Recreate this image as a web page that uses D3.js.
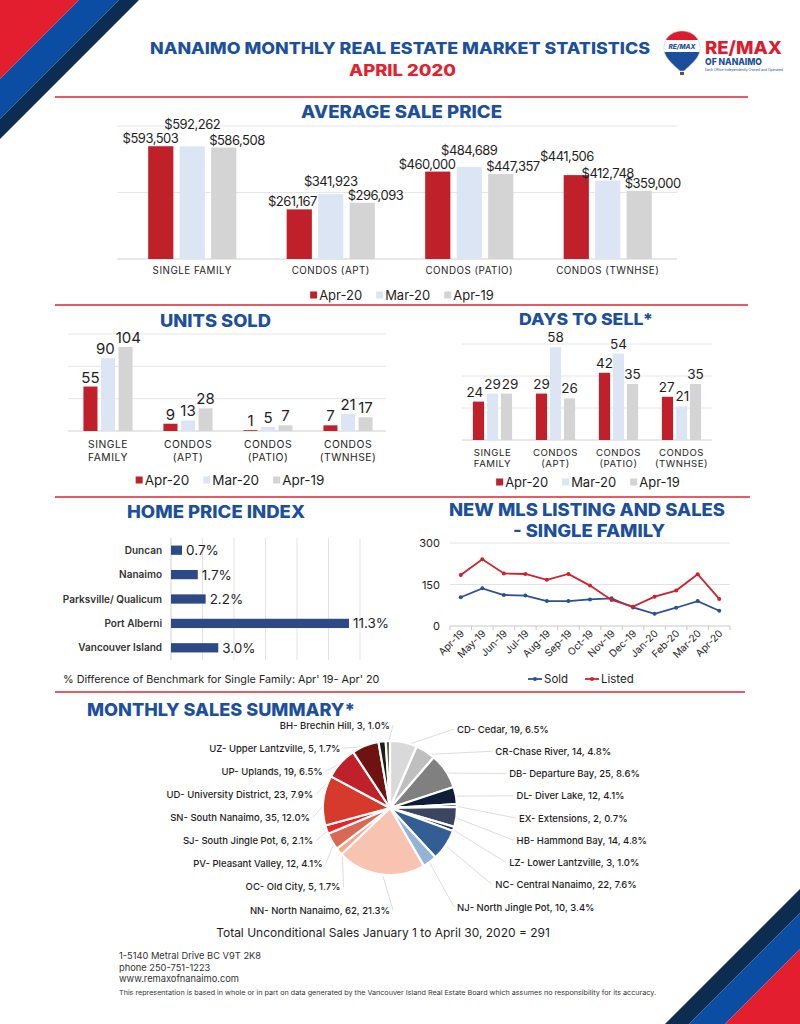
<!DOCTYPE html>
<html>
<head>
<meta charset="utf-8">
<script src="https://cdn.jsdelivr.net/npm/d3@7"></script>
<style>
  body { margin: 0; background: #fff; }
  svg { display: block; font-family: Inter, "Open Sans", sans-serif; }
</style>
</head>
<body>
<svg id="chart" width="800" height="1024"></svg>
<script>
// ---- data ----
const seriesNames = ["Apr-20", "Mar-20", "Apr-19"];

const priceCategories = [["SINGLE FAMILY"], ["CONDOS (APT)"], ["CONDOS (PATIO)"], ["CONDOS (TWNHSE)"]];
const priceApr20 = [593503, 261167, 460000, 441506];
const priceMar20 = [592262, 341923, 484689, 412748];
const priceApr19 = [586508, 296093, 447357, 359000];
const priceTicks = [0, 350000, 700000];

const typeCategories = [["SINGLE", "FAMILY"], ["CONDOS", "(APT)"], ["CONDOS", "(PATIO)"], ["CONDOS", "(TWNHSE)"]];
const unitsApr20 = [55, 9, 1, 7];
const unitsMar20 = [90, 13, 5, 21];
const unitsApr19 = [104, 28, 7, 17];
const unitTicks = [0, 40, 80, 120];

const daysApr20 = [24, 29, 42, 27];
const daysMar20 = [29, 58, 54, 21];
const daysApr19 = [29, 26, 35, 35];
const dayTicks = [0, 20, 40, 60];

const hpiRegions = ["Duncan", "Nanaimo", "Parksville/ Qualicum", "Port Alberni", "Vancouver Island"];
const hpiChange = [0.7, 1.7, 2.2, 11.3, 3.0];
const hpiTicks = [0, 2, 4, 6, 8, 10, 12];

const mlsMonths = ["Apr-19", "May-19", "Jun-19", "Jul-19", "Aug-19", "Sep-19", "Oct-19",
                   "Nov-19", "Dec-19", "Jan-20", "Feb-20", "Mar-20", "Apr-20"];
const mlsSold = [104, 136, 112, 110, 90, 90, 96, 100, 67, 44, 66, 90, 55];
const mlsListed = [184, 241, 190, 188, 167, 188, 146, 94, 70, 106, 128, 187, 98];
const mlsTicks = [0, 150, 300];

const areaNames = ["CD- Cedar", "CR-Chase River", "DB- Departure Bay", "DL- Diver Lake", "EX- Extensions",
                   "HB- Hammond Bay", "LZ- Lower Lantzville", "NC- Central Nanaimo", "NJ- North Jingle Pot",
                   "NN- North Nanaimo", "OC- Old City", "PV- Pleasant Valley", "SJ- South Jingle Pot",
                   "SN- South Nanaimo", "UD- University District", "UP- Uplands", "UZ- Upper Lantzville",
                   "BH- Brechin Hill"];
const areaSales = [19, 14, 25, 12, 2, 14, 3, 22, 10, 62, 5, 12, 6, 35, 23, 19, 5, 3];

// ---- styles ----
const BLUE = "#1c4f9c";
const RED = "#e2232f";
const INK = "#1e1e1e";
const seriesColors = ["#c0202a", "#dbe5f4", "#d4d4d4"];
const areaColors = ["#d9d9d9", "#bfbfbf", "#808080", "#0d1d3a", "#1f3864", "#3a4660", "#1c3560",
                    "#335e94", "#95b3d7", "#f8c3b0", "#f4a88e", "#d86a55", "#e8232a", "#d63a2c",
                    "#c0202a", "#6e1212", "#1e1e14", "#5c5234"];

const svg = d3.select("#chart");

// corner stripes
function stripe(points, fill) {
  svg.append("polygon").attr("points", points.map(p => p.join(",")).join(" ")).attr("fill", fill);
}
stripe([[0, 0], [79, 0], [0, 79]], "#e31e2f");
stripe([[79, 0], [119, 0], [0, 119], [0, 79]], "#0a4da2");
stripe([[119, 0], [139, 0], [0, 139], [0, 119]], "#0c2d4f");
stripe([[665, 1024], [800, 889], [800, 913], [689, 1024]], "#0c2d4f");
stripe([[689, 1024], [800, 913], [800, 949], [725, 1024]], "#0a4da2");
stripe([[725, 1024], [800, 949], [800, 1024]], "#e31e2f");

function heading(text, x, y, len, size, fill, anchor) {
  return svg.append("text")
    .attr("x", x).attr("y", y)
    .attr("text-anchor", anchor || "start")
    .attr("font-size", size || 17)
    .attr("font-weight", 800)
    .attr("fill", fill || BLUE)
    .attr("textLength", len)
    .attr("lengthAdjust", "spacingAndGlyphs")
    .text(text);
}

function rule(y, x1, x2) {
  svg.append("line").attr("x1", x1).attr("x2", x2).attr("y1", y).attr("y2", y)
    .attr("stroke", RED).attr("stroke-width", 1.4);
}

// ---- header ----
heading("NANAIMO MONTHLY REAL ESTATE MARKET STATISTICS", 150, 54, 500, 16);
heading("APRIL 2020", 349, 76, 107, 16, RED);

// logo balloon
const logo = svg.append("g");
const balloonPath = "M682,31 C694,31 701,40 700,50 C699,59 689,66 684,71 L680,71 C675,66 665,59 664,50 C663,40 670,31 682,31 Z";
logo.append("clipPath").attr("id", "balloon").append("path").attr("d", balloonPath);
const bg = logo.append("g").attr("clip-path", "url(#balloon)");
bg.append("rect").attr("x", 660).attr("y", 28).attr("width", 45).attr("height", 12).attr("fill", "#dc1c2e");
bg.append("rect").attr("x", 660).attr("y", 40).attr("width", 45).attr("height", 12).attr("fill", "#fff");
bg.append("rect").attr("x", 660).attr("y", 52).attr("width", 45).attr("height", 25).attr("fill", "#1b4f9c");
logo.append("path").attr("d", balloonPath).attr("fill", "none").attr("stroke", "#c9c9c9").attr("stroke-width", 0.6);
logo.append("text").attr("x", 682).attr("y", 49).attr("text-anchor", "middle").attr("font-size", 6.5)
  .attr("font-weight", 800).attr("font-style", "italic").attr("fill", "#1b4f9c").text("RE/MAX");
logo.append("rect").attr("x", 680).attr("y", 72).attr("width", 4).attr("height", 3).attr("fill", "#555");
heading("RE/MAX", 705, 54, 77, 18, "#dc1c2e");
heading("OF NANAIMO", 705, 65, 57, 9.5, "#1b4f9c");
svg.append("text").attr("x", 705).attr("y", 70.5).attr("font-size", 3.4).attr("fill", "#1b4f9c")
  .attr("textLength", 78).attr("lengthAdjust", "spacingAndGlyphs")
  .text("Each Office Independently Owned and Operated");

rule(97, 55, 748);
rule(305, 55, 748);
rule(497, 55, 750);
rule(692, 55, 745);

// ---- legend helper ----
function legend(cx, y, size) {
  const g = svg.append("g");
  let x = 0;
  seriesNames.forEach((name, i) => {
    g.append("rect").attr("x", x).attr("y", y - 8.5).attr("width", 7).attr("height", 7).attr("fill", seriesColors[i]);
    const t = g.append("text").attr("x", x + 9).attr("y", y).attr("font-size", size).attr("fill", INK).text(name);
    x += 9 + t.node().getComputedTextLength() + 14;
  });
  g.attr("transform", `translate(${cx - (x - 14) / 2},0)`);
}

// ---- grouped bar helper ----
function groupedBars(cfg) {
  const series = cfg.series;
  const x = d3.scaleBand().domain(d3.range(cfg.categories.length)).range([cfg.x0, cfg.x1]);
  const xs = d3.scaleBand().domain(d3.range(series.length)).range([0, x.bandwidth()])
    .paddingInner(0.2).paddingOuter(cfg.outer);
  const y = d3.scaleLinear().domain([0, d3.max(cfg.ticks)]).range([cfg.yBase, cfg.yTop]);
  const g = svg.append("g");

  g.selectAll(".grid").data(cfg.ticks).join("line")
    .attr("x1", cfg.gridX0).attr("x2", cfg.gridX1)
    .attr("y1", d => y(d)).attr("y2", d => y(d))
    .attr("stroke", d => d === 0 ? "#d0d0d0" : "#e6e6e6").attr("stroke-width", 1);

  series.forEach((vals, s) => {
    g.selectAll(null).data(vals).join("rect")
      .attr("x", (d, i) => x(i) + xs(s))
      .attr("y", d => y(d))
      .attr("width", xs.bandwidth())
      .attr("height", d => cfg.yBase - y(d))
      .attr("fill", seriesColors[s]);
  });

  // value labels
  cfg.categories.forEach((c, i) => {
    const vals = series.map(v => v[i]);
    const left = s => x(i) + xs(s);
    const ly = vals.map(v => y(v) - cfg.labelGap);
    let pos;
    if (cfg.spread) {
      // outer labels lean outwards, the crowded one is lifted
      if (Math.abs(ly[1] - ly[0]) < 10 || Math.abs(ly[1] - ly[2]) < 10) {
        if (ly[1] <= Math.min(ly[0], ly[2]) + 1) ly[1] = Math.min(ly[0], ly[2]) - 14;
        else if (ly[0] < ly[1]) ly[0] = ly[0] - 11;
        else ly[2] = ly[2] - 11;
      }
      pos = [
        { x: left(0) + xs.bandwidth() + 5, y: ly[0], a: "end" },
        { x: left(1) + xs.bandwidth() / 2, y: ly[1], a: "middle" },
        { x: left(2) - 2, y: ly[2], a: "start" }
      ];
    } else {
      pos = vals.map((v, s) => ({ x: left(s) + xs.bandwidth() / 2, y: ly[s], a: "middle" }));
    }
    const texts = vals.map((v, s) => g.append("text").attr("x", pos[s].x).attr("y", pos[s].y)
      .attr("text-anchor", pos[s].a).attr("font-size", cfg.labelSize)
      .attr("letter-spacing", cfg.labelSpacing || 0).attr("fill", INK)
      .text(cfg.fmt(v)));
    if (!cfg.spread) {
      // nudge neighbouring labels apart when they touch
      const w = texts.map(t => t.node().getComputedTextLength());
      for (let iter = 0; iter < 4; iter++) {
        for (let s = 0; s < pos.length - 1; s++) {
          if (Math.abs(pos[s].y - pos[s + 1].y) > 12) continue;
          const over = (pos[s].x + w[s] / 2 + 1) - (pos[s + 1].x - w[s + 1] / 2);
          if (over > 0) { pos[s].x -= over / 2; pos[s + 1].x += over / 2; }
        }
      }
      texts.forEach((t, s) => t.attr("x", pos[s].x));
    }
    c.forEach((line, k) => {
      g.append("text").attr("x", x(i) + x.bandwidth() / 2).attr("y", cfg.catY + k * cfg.catStep)
        .attr("text-anchor", "middle").attr("font-size", cfg.catSize).attr("letter-spacing", 0.5)
        .attr("fill", INK).text(line);
    });
  });
}

// ---- average sale price ----
heading("AVERAGE SALE PRICE", 301, 118, 201, 17);
groupedBars({
  categories: priceCategories, series: [priceApr20, priceMar20, priceApr19],
  x0: 123, x1: 677, outer: 0.8, yBase: 259, yTop: 126, ticks: priceTicks,
  gridX0: 117, gridX1: 677, spread: true, labelSize: 13, labelSpacing: -0.5, labelGap: 3,
  fmt: d => "$" + d3.format(",")(d), catY: 274, catStep: 12, catSize: 9.8
});
legend(402, 300, 13);

// ---- units sold ----
heading("UNITS SOLD", 160, 327, 111, 17);
groupedBars({
  categories: typeCategories, series: [unitsApr20, unitsMar20, unitsApr19],
  x0: 68, x1: 388, outer: 0.88, yBase: 431, yTop: 334, ticks: unitTicks,
  gridX0: 68, gridX1: 386, spread: false, labelSize: 15, labelGap: 4,
  fmt: d => d, catY: 448, catStep: 13, catSize: 10.3
});
legend(230, 485, 13.5);

// ---- days to sell ----
heading("DAYS TO SELL*", 519, 325, 134, 16.5);
groupedBars({
  categories: typeCategories, series: [daysApr20, daysMar20, daysApr19],
  x0: 461, x1: 713, outer: 0.85, yBase: 440, yTop: 344, ticks: dayTicks,
  gridX0: 462, gridX1: 712, spread: false, labelSize: 13.5, labelGap: 5,
  fmt: d => d, catY: 456, catStep: 11, catSize: 9.6
});
legend(588, 487, 13);

// ---- home price index ----
heading("HOME PRICE INDEX", 127, 518, 178, 17);
{
  const x = d3.scaleLinear().domain([0, 12]).range([171, 360]);
  const y = d3.scaleBand().domain(hpiRegions).range([538, 660]).paddingInner(0.62).paddingOuter(0.31);
  const g = svg.append("g");
  g.selectAll("line").data(hpiTicks).join("line")
    .attr("x1", d => x(d)).attr("x2", d => x(d)).attr("y1", 538).attr("y2", 660)
    .attr("stroke", d => d === 0 ? "#d0d0d0" : "#e3e3e3");
  g.selectAll("rect").data(hpiChange).join("rect")
    .attr("x", x(0)).attr("y", (d, i) => y(hpiRegions[i]))
    .attr("width", d => x(d) - x(0)).attr("height", y.bandwidth())
    .attr("fill", "#2d4a86");
  g.selectAll(".val").data(hpiChange).join("text")
    .attr("x", d => x(d) + 4).attr("y", (d, i) => y(hpiRegions[i]) + y.bandwidth() / 2 + 5)
    .attr("font-size", 13.5).attr("fill", INK).text(d => d.toFixed(1) + "%");
  g.selectAll(".cat").data(hpiRegions).join("text")
    .attr("x", 162).attr("y", d => y(d) + y.bandwidth() / 2 + 3.5)
    .attr("text-anchor", "end").attr("font-size", 10).attr("font-weight", 600).attr("fill", "#333").text(d => d);
  svg.append("text").attr("x", 63).attr("y", 683).attr("font-size", 10.8).attr("fill", INK)
    .text("% Difference of Benchmark for Single Family: Apr' 19- Apr' 20");
}

// ---- new MLS listings and sales ----
heading("NEW MLS LISTING AND SALES", 449, 516, 276, 17);
heading("- SINGLE FAMILY", 513, 537, 152, 17);
{
  const x = d3.scaleBand().domain(mlsMonths).range([450, 730]);
  const y = d3.scaleLinear().domain([0, 300]).range([626, 543]);
  const g = svg.append("g");
  g.selectAll(".grid").data(mlsTicks).join("line")
    .attr("x1", 450).attr("x2", 730).attr("y1", d => y(d)).attr("y2", d => y(d))
    .attr("stroke", d => d === 0 ? "#c8c8c8" : "#e3e3e3");
  g.selectAll(".tick").data(d3.range(mlsMonths.length + 1)).join("line")
    .attr("x1", i => 450 + i * x.step()).attr("x2", i => 450 + i * x.step())
    .attr("y1", 626).attr("y2", 630).attr("stroke", "#c8c8c8");
  g.selectAll(".ylab").data(mlsTicks).join("text")
    .attr("x", 440).attr("y", d => y(d) + 4).attr("text-anchor", "end")
    .attr("font-size", 11).attr("fill", INK).text(d => d);
  g.selectAll(".xlab").data(mlsMonths).join("text")
    .attr("text-anchor", "end").attr("font-size", 10).attr("fill", INK)
    .attr("transform", d => `translate(${x(d) + x.bandwidth() / 2 + 4},634) rotate(-45)`)
    .text(d => d);
  const line = d3.line().x((d, i) => x(mlsMonths[i]) + x.bandwidth() / 2).y(d => y(d));
  [[mlsSold, "#2e4f94"], [mlsListed, "#d0202b"]].forEach(([vals, col]) => {
    g.append("path").attr("d", line(vals)).attr("fill", "none").attr("stroke", col).attr("stroke-width", 1.8);
    g.selectAll(null).data(vals).join("circle")
      .attr("cx", (d, i) => x(mlsMonths[i]) + x.bandwidth() / 2).attr("cy", d => y(d))
      .attr("r", 2).attr("fill", col);
  });
  [["Sold", "#2e4f94", 528], ["Listed", "#d0202b", 585]].forEach(([name, col, lx]) => {
    g.append("line").attr("x1", lx).attr("x2", lx + 14).attr("y1", 679).attr("y2", 679)
      .attr("stroke", col).attr("stroke-width", 1.8);
    g.append("circle").attr("cx", lx + 7).attr("cy", 679).attr("r", 2).attr("fill", col);
    g.append("text").attr("x", lx + 16).attr("y", 683).attr("font-size", 11.5).attr("fill", INK).text(name);
  });
}

// ---- monthly sales summary pie ----
heading("MONTHLY SALES SUMMARY*", 87, 716, 268, 18);
{
  const cx = 390, cy = 808, r = 67;
  const total = d3.sum(areaSales);
  const arcs = d3.pie().sort(null).value(d => d)(areaSales);
  const arc = d3.arc().innerRadius(0).outerRadius(r);
  const mid = a => (a.startAngle + a.endAngle) / 2;
  const g = svg.append("g");

  const right = arcs.filter(a => mid(a) < Math.PI);
  const left = arcs.filter(a => mid(a) >= Math.PI).sort((a, b) => mid(b) - mid(a));
  const labels = [];
  right.forEach((a, i) => {
    const t = i / (right.length - 1);
    labels.push({ a, x: cx + 67 + 62 * Math.sqrt(Math.sin(Math.PI * t)), y: 729 + t * 178, side: 1 });
  });
  left.forEach((a, i) => {
    const t = i / (left.length - 1);
    labels.push({ a, x: cx - 80 * Math.sqrt(Math.sin(Math.PI * t)), y: 725 + t * 185, side: -1 });
  });

  labels.forEach(l => {
    const m = mid(l.a);
    g.append("line")
      .attr("x1", l.x - l.side * 3).attr("y1", l.y)
      .attr("x2", cx + (r - 4) * Math.sin(m)).attr("y2", cy - (r - 4) * Math.cos(m))
      .attr("stroke", "#d4d4d4").attr("stroke-width", 0.8);
  });

  g.selectAll("path").data(arcs).join("path")
    .attr("transform", `translate(${cx},${cy})`)
    .attr("d", arc)
    .attr("fill", (d, i) => areaColors[i])
    .attr("stroke", "#fff").attr("stroke-width", 2.2).attr("stroke-linejoin", "round");

  labels.forEach(l => {
    const i = l.a.index;
    g.append("text").attr("x", l.x).attr("y", l.y + 3.5)
      .attr("text-anchor", l.side > 0 ? "start" : "end")
      .attr("font-size", 9.5).attr("font-weight", 500).attr("fill", INK)
      .text(`${areaNames[i]}, ${areaSales[i]}, ${(areaSales[i] / total * 100).toFixed(1)}%`);
  });

  svg.append("text").attr("x", 383).attr("y", 937).attr("text-anchor", "middle")
    .attr("font-size", 12).attr("fill", INK)
    .text(`Total Unconditional Sales January 1 to April 30, 2020 = ${total}`);
}

// ---- footer ----
["1-5140 Metral Drive BC V9T 2K8", "phone 250-751-1223", "www.remaxofnanaimo.com"].forEach((t, i) => {
  svg.append("text").attr("x", 119).attr("y", 959 + i * 11.5).attr("font-size", 9.3).attr("fill", "#333").text(t);
});
svg.append("text").attr("x", 119).attr("y", 995).attr("font-size", 6.8).attr("fill", "#333")
  .attr("textLength", 537).attr("lengthAdjust", "spacingAndGlyphs")
  .text("This representation is based in whole or in part on data generated by the Vancouver Island Real Estate Board which assumes no responsibility for its accuracy.");
</script>
</body>
</html>
